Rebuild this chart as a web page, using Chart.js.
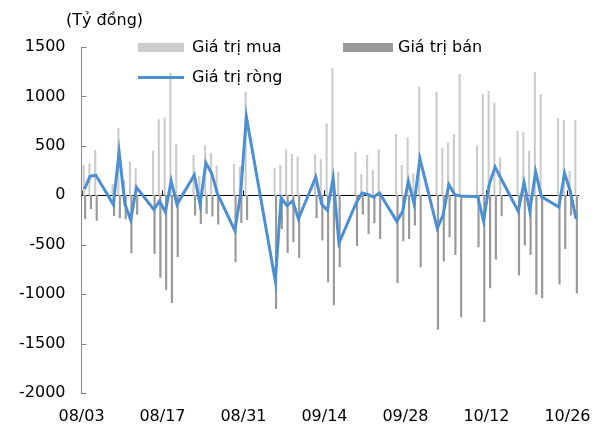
<!DOCTYPE html>
<html>
<head>
<meta charset="utf-8">
<script src="https://cdn.jsdelivr.net/npm/chart.js@4/dist/chart.umd.min.js"></script>
<style>
  body { margin: 0; background: #fff; }
  #wrap { position: relative; width: 606px; height: 428px; font-family: "DejaVu Sans", sans-serif; }
  .lbl { position: absolute; font-size: 16px; color: #000; white-space: nowrap; line-height: 20px; }
  .sw { position: absolute; }
</style>
</head>
<body>
<div id="wrap">
  <canvas id="chart" width="606" height="428"></canvas>
  <div class="lbl" style="left:66px;top:10px">(Tỷ đồng)</div>
  <div class="sw" style="left:138px;top:43px;width:46px;height:9px;background:#cccccc"></div>
  <div class="lbl" style="left:192px;top:37px">Giá trị mua</div>
  <div class="sw" style="left:343px;top:43px;width:50px;height:9px;background:#999999"></div>
  <div class="lbl" style="left:398px;top:37px">Giá trị bán</div>
  <div class="sw" style="left:138px;top:76px;width:46px;height:3px;background:#4e8fd2"></div>
  <div class="lbl" style="left:192px;top:67px">Giá trị ròng</div>
</div>
<script>
// trading days (2022), values in billion VND
const dates = ['08/03','08/04','08/05','08/08','08/09','08/10','08/11','08/12',
  '08/15','08/16','08/17','08/18','08/19','08/22','08/23','08/24','08/25','08/26',
  '08/29','08/30','08/31','09/05','09/06','09/07','09/08','09/09',
  '09/12','09/13','09/14','09/15','09/16','09/19','09/20','09/21','09/22','09/23',
  '09/26','09/27','09/28','09/29','09/30','10/03','10/04','10/05','10/06','10/07',
  '10/10','10/11','10/12','10/13','10/14','10/17','10/18','10/19','10/20','10/21',
  '10/24','10/25','10/26','10/27'];

const buyValues = [303,320,455,110,674,150,337,270,
  450,765,785,1235,516,404,195,505,428,295,
  313,286,1045,273,303,462,415,388,
  411,361,725,1281,236,438,212,404,253,462,
  617,303,580,219,1095,1045,472,529,617,1223,
  499,1021,1051,933,381,647,634,448,1240,1021,
  775,758,243,758];

const sellValues = [-236,-135,-253,-205,-229,-240,-583,-192,
  -590,-832,-954,-1085,-620,-202,-286,-185,-212,-293,
  -674,-276,-246,-1146,-337,-580,-472,-630,
  -229,-455,-876,-1108,-725,-510,-192,-388,-280,-438,
  -883,-462,-438,-303,-725,-1358,-667,-421,-600,-1230,
  -522,-1280,-938,-647,-209,-809,-505,-600,-1004,-1038,
  -899,-539,-202,-990];

const netValues = [62,193,202,-94,438,-88,-250,80,
  -143,-60,-169,145,-93,205,-92,328,222,17,
  -356,10,795,-866,-26,-105,-59,-240,
  185,-88,-152,175,-485,-75,24,10,-20,24,
  -264,-165,142,-88,371,-335,-200,108,7,-7,
  -15,-260,115,286,172,-162,128,-157,240,-12,
  -120,222,41,-240];

const tickLabels = ['08/03','08/17','08/31','09/14','09/28','10/12','10/26'];
const yTicks = [-2000,-1500,-1000,-500,0,500,1000,1500];

const base = Date.UTC(2022, 7, 3);
function dayOf(s) {
  return (Date.UTC(2022, +s.slice(0, 2) - 1, +s.slice(3)) - base) / 86400000;
}
// each day is a slot on the date axis, the point sits mid slot
const pts = vals => vals.map((v, i) => ({ x: dayOf(dates[i]) + 0.5, y: v }));

const axisMarks = {
  id: 'axisMarks',
  beforeDatasetsDraw(chart) {
    const { ctx, chartArea, scales: { x, y } } = chart;
    ctx.save();
    ctx.lineWidth = 1;
    ctx.strokeStyle = '#868686';
    ctx.beginPath();
    y.ticks.forEach(t => {
      const py = Math.round(y.getPixelForValue(t.value)) + 0.5;
      ctx.moveTo(chartArea.left, py);
      ctx.lineTo(chartArea.left + 5, py);
    });
    ctx.stroke();
    const y0 = Math.round(y.getPixelForValue(0)) + 0.5;
    ctx.strokeStyle = '#000';
    ctx.beginPath();
    ctx.moveTo(chartArea.left, y0);
    ctx.lineTo(chartArea.right, y0);
    x.ticks.forEach(t => {
      const px = Math.round(x.getPixelForValue(t.value)) + 0.5;
      ctx.moveTo(px, y0);
      ctx.lineTo(px, y0 - 5);
    });
    ctx.stroke();
    ctx.restore();
  }
};

new Chart(document.getElementById('chart').getContext('2d'), {
  type: 'bar',
  data: {
    datasets: [
      {
        type: 'line',
        label: 'Giá trị ròng',
        data: pts(netValues),
        borderColor: '#4e8fd2',
        borderWidth: 3,
        pointRadius: 0,
        tension: 0,
        order: 0
      },
      {
        label: 'Giá trị mua',
        data: pts(buyValues),
        backgroundColor: '#cccccc',
        barThickness: 1.5,
        order: 1
      },
      {
        label: 'Giá trị bán',
        data: pts(sellValues),
        backgroundColor: '#999999',
        barThickness: 1.5,
        order: 1
      }
    ]
  },
  options: {
    responsive: false,
    animation: false,
    layout: { padding: { top: 47, right: 27, bottom: 2, left: 18 } },
    plugins: { legend: { display: false }, tooltip: { enabled: false } },
    scales: {
      x: {
        type: 'linear',
        offset: false,
        min: 0,
        max: 86,
        grid: { display: false, drawTicks: false },
        border: { display: false },
        afterBuildTicks: scale => {
          scale.ticks = tickLabels.map(l => ({ value: dayOf(l) }));
        },
        afterFit: scale => {
          scale.paddingLeft = 0;
          scale.paddingRight = 0;
          scale.height = 33;
        },
        ticks: {
          autoSkip: false,
          maxRotation: 0,
          padding: 14,
          color: '#000',
          font: { family: 'DejaVu Sans', size: 16 },
          callback: (v, i) => tickLabels[i]
        }
      },
      y: {
        min: -2000,
        max: 1500,
        grid: { display: false, drawTicks: false },
        border: { display: true, color: '#868686', width: 1 },
        afterBuildTicks: scale => {
          scale.ticks = yTicks.map(v => ({ value: v }));
        },
        afterFit: scale => {
          scale.width = 63.5;
          scale.paddingTop = 0;
          scale.paddingBottom = 0;
        },
        ticks: {
          padding: 16,
          color: '#000',
          font: { family: 'DejaVu Sans', size: 16 },
          callback: v => String(v)
        }
      }
    }
  },
  plugins: [axisMarks]
});
</script>
</body>
</html>
